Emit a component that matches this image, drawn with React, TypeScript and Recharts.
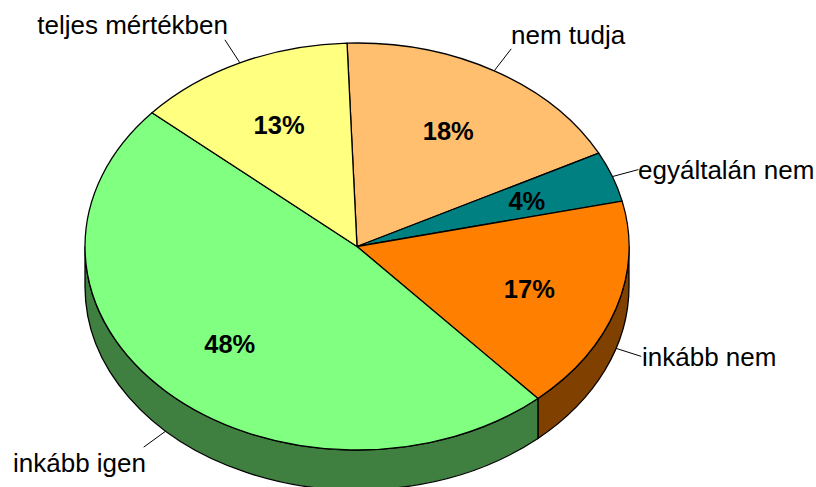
import { PieChart, Pie, Cell } from 'recharts';

const categories = ['nem tudja', 'egyáltalán nem', 'inkább nem', 'inkább igen', 'teljes mértékben'];
const shares = [18, 4, 17, 48, 13];
const fills = ['#FFBF6F', '#008080', '#FF8000', '#80FF80', '#FFFF80'];
const wallFills = ['#7F5F37', '#004040', '#7F4000', '#3F7F3F', '#7F7F3F'];

const chartData = categories.map((name, index) => ({
  name,
  value: shares[index],
  fill: fills[index],
  wall: wallFills[index],
}));

const CX = 357;
const CY = 246.5;
const RX = 272;
const RY = 203.5;
const DEPTH = 40;
const FONT = '"Liberation Sans", Arial, sans-serif';

// where each callout goes, relative to the rim point of its slice
const callouts: Record<string, { dx: number; dy: number; tx: number; ty: number; anchor: string }> = {
  'nem tudja': { dx: 17, dy: -22, tx: 511, ty: 44, anchor: 'start' },
  'egyáltalán nem': { dx: 26, dy: -7, tx: 638, ty: 179, anchor: 'start' },
  'inkább nem': { dx: 25, dy: 8, tx: 642, ty: 366, anchor: 'start' },
  'inkább igen': { dx: -22, dy: 16, tx: 146, ty: 472, anchor: 'end' },
  'teljes mértékben': { dx: -15, dy: -23, tx: 228, ty: 34, anchor: 'end' },
};

const rim = (deg: number, dy = 0) => {
  const a = (deg * Math.PI) / 180;
  return [CX + RX * Math.cos(a), CY - RY * Math.sin(a) + dy];
};

// recharts only draws circular sectors, so squash them into the tilted ellipse
const TiltedSector = (props: any) => {
  const { startAngle, endAngle, fill, payload } = props;
  const [sx, sy] = rim(startAngle);
  const [ex, ey] = rim(endAngle);
  const large = Math.abs(startAngle - endAngle) > 180 ? 1 : 0;

  const wallStart = Math.min(startAngle, 0);
  const wallEnd = Math.max(endAngle, -180);
  let wall = null;
  if (wallStart > wallEnd) {
    const [ax, ay] = rim(wallStart);
    const [bx, by] = rim(wallEnd);
    wall = (
      <path
        d={`M${ax},${ay} A${RX},${RY} 0 0 1 ${bx},${by} L${bx},${by + DEPTH} A${RX},${RY} 0 0 0 ${ax},${ay + DEPTH} Z`}
        fill={payload?.wall ?? props.wall}
        stroke="#000"
        strokeWidth={1.3}
      />
    );
  }

  return (
    <g>
      {wall}
      <path
        d={`M${CX},${CY} L${sx},${sy} A${RX},${RY} 0 ${large} 1 ${ex},${ey} Z`}
        fill={fill}
        stroke="#000"
        strokeWidth={1.3}
        strokeLinejoin="round"
      />
    </g>
  );
};

const SliceLabel = (props: any) => {
  const { midAngle, name, value } = props;
  const a = (midAngle * Math.PI) / 180;
  const px = CX + RX * 0.665 * Math.cos(a);
  const py = CY - RY * 0.665 * Math.sin(a) + 1;
  const lower = Math.sin(a) < -0.2;
  const [lx, ly] = rim(midAngle, lower ? DEPTH : 0);
  const c = callouts[name];
  return (
    <g>
      <text x={px} y={py} textAnchor="middle" dominantBaseline="central" fontFamily={FONT} fontWeight="bold" fontSize={25.5} fill="#000">
        {value}%
      </text>
      <line x1={lx} y1={ly} x2={lx + c.dx} y2={ly + c.dy} stroke="#000" strokeWidth={1} />
      <text x={c.tx} y={c.ty} textAnchor={c.anchor as any} fontFamily={FONT} fontSize={26} fill="#000">
        {name}
      </text>
    </g>
  );
};

export default function App() {
  return (
    <div style={{ position: 'absolute', left: 0, top: 0, width: 816, height: 487, overflow: 'hidden', background: '#fff' }}>
      <PieChart width={816} height={487} margin={{ top: 0, right: 0, bottom: 0, left: 0 }}>
        <Pie
          data={chartData}
          dataKey="value"
          nameKey="name"
          cx={CX}
          cy={CY}
          innerRadius={0}
          outerRadius={RX}
          startAngle={92.1}
          endAngle={-267.9}
          paddingAngle={0}
          shape={TiltedSector}
          label={SliceLabel}
          labelLine={false}
          isAnimationActive={false}
        >
          {chartData.map((entry) => (
            <Cell key={entry.name} fill={entry.fill} />
          ))}
        </Pie>
      </PieChart>
    </div>
  );
}
